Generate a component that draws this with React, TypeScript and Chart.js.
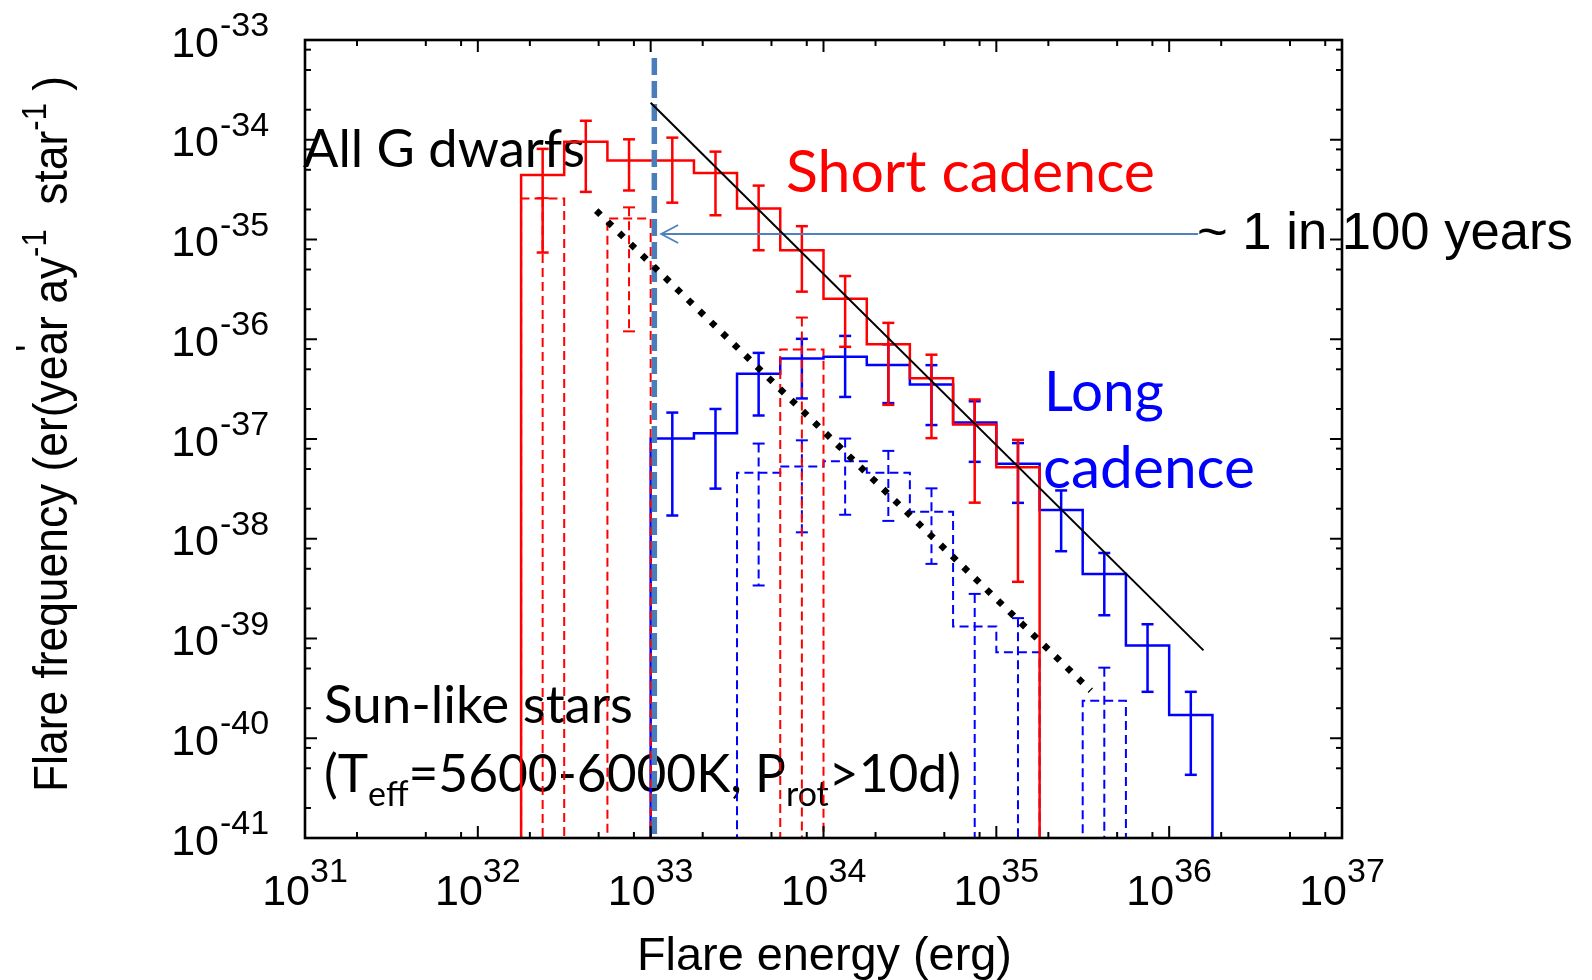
import React, { useEffect, useRef } from 'react';
import { Chart, registerables } from 'chart.js';

Chart.register(...registerables);

// ---------------- data ----------------
// shared bin edges (0.25 dex bins, 10^32.25 ... 10^36.25 erg)
const binEdges = [1.78e32, 3.16e32, 5.62e32, 1e33, 1.78e33, 3.16e33, 5.62e33, 1e34, 1.78e34, 3.16e34, 5.62e34, 1e35, 1.78e35, 3.16e35, 5.62e35, 1e36, 1.78e36];

// Short cadence, all G dwarfs (red solid); 0 = empty bin
const shortAllG = [4.44e-35, 9.55e-35, 6.2e-35, 6.2e-35, 4.65e-35, 2.04e-35, 7.8e-36, 2.55e-36, 8.9e-37, 4.07e-37, 1.4e-37, 5.2e-38, 0, 0, 0, 0];
const shortAllGHi = [8.1e-35, 1.55e-34, 1.01e-34, 1.05e-34, 7.6e-35, 3.47e-35, 1.36e-35, 4.3e-36, 1.46e-36, 7.0e-37, 2.49e-37, 9.8e-38, null, null, null, null];
const shortAllGLo = [7.4e-36, 3.0e-35, 3.1e-35, 2.34e-35, 1.75e-35, 7.8e-36, 3.0e-36, 8.4e-37, 2.2e-37, 1.02e-37, 2.3e-38, 3.7e-39, null, null, null, null];

// Short cadence, Sun-like stars (red dashed)
const shortSun = [2.57e-35, 0, 1.62e-35, 0, 0, 0, 7.9e-37, 0, 0, 0, 0, 0, 0, 0, 0, 0];
const shortSunHi = [2.6e-35, null, 2.1e-35, null, null, null, 1.65e-36, null, null, null, null, null, null, null, null, null];
const shortSunLo = [0, null, 1.2e-36, null, null, null, 0, null, null, null, null, null, null, null, null, null];

// Long cadence, all G dwarfs (blue solid)
const longAllG = [0, 0, 0, 1.01e-37, 1.14e-37, 4.5e-37, 6.41e-37, 6.68e-37, 5.53e-37, 3.52e-37, 1.46e-37, 5.66e-38, 1.94e-38, 4.42e-39, 8.5e-40, 1.71e-40];
const longAllGHi = [null, null, null, 1.84e-37, 2.0e-37, 7.3e-37, 1.01e-36, 1.08e-36, 8.9e-37, 5.5e-37, 2.39e-37, 9.1e-38, 3.05e-38, 7.2e-39, 1.39e-39, 2.92e-40];
const longAllGLo = [null, null, null, 1.71e-38, 3.18e-38, 1.72e-37, 2.55e-37, 2.64e-37, 2.29e-37, 1.38e-37, 5.9e-38, 2.29e-38, 7.5e-39, 1.71e-39, 2.92e-40, 4.3e-41];

// Long cadence, Sun-like stars (blue dashed)
const longSun = [0, 0, 0, 0, 0, 4.6e-38, 5.3e-38, 6.0e-38, 4.6e-38, 1.86e-38, 1.32e-39, 7.3e-40, 0, 2.38e-40, 0, 0];
const longSunHi = [null, null, null, null, null, 9.0e-38, 9.7e-38, 1.01e-37, 7.6e-38, 3.2e-38, 2.8e-39, 1.6e-39, null, 5.1e-40, null, null];
const longSunLo = [null, null, null, null, null, 3.4e-39, 1.16e-38, 1.74e-38, 1.51e-38, 5.6e-39, 0, 0, null, 0, null, null];

// power-law guide lines
const fitLineX = [1.0e33, 1.58e36];
const fitLineY = [2.35e-34, 7.6e-40];
const sunLineX = [4.84e32, 3.52e35];
const sunLineY = [1.95e-35, 3.0e-40];
// vertical threshold line at 10^33 erg (0 = down to the axis)
const thresholdX = [1.05e33, 1.05e33];
const thresholdY = [6.6e-34, 0];
// "~ 1 in 100 years" arrow (head first)
const arrowX = [1.15e33, 1.47e36];
const arrowY = [1.135e-35, 1.135e-35];

// axes
const xTickExps = [31, 32, 33, 34, 35, 36, 37];
const yTickExps = [-41, -40, -39, -38, -37, -36, -35, -34, -33];
const minorMults = [2, 5, 8];

// ---------------- helpers ----------------
const FLOOR = 1e-44;
const RED = '#ff0000';
const BLUE = '#0000ff';
const ARIAL = "'Liberation Sans', Arial, sans-serif";
const CALIBRI = "Lato, 'Open Sans', sans-serif";

function histPoints(vals: number[]) {
  const first = vals.findIndex((v) => v > 0);
  let last = first;
  vals.forEach((v, i) => { if (v > 0) last = i; });
  const pts: { x: number; y: number | null }[] = [{ x: binEdges[first], y: FLOOR }];
  for (let i = first; i <= last; i++) {
    const y = vals[i] > 0 ? vals[i] : FLOOR;
    pts.push({ x: binEdges[i], y }, { x: binEdges[i + 1], y });
  }
  pts.push({ x: binEdges[last + 1], y: FLOOR });
  return pts;
}

function errPoints(hi: (number | null)[], lo: (number | null)[]) {
  const pts: { x: number; y: number | null }[] = [];
  hi.forEach((h, i) => {
    if (h == null) return;
    const c = Math.sqrt(binEdges[i] * binEdges[i + 1]);
    const l = lo[i] && (lo[i] as number) > 0 ? (lo[i] as number) : FLOOR;
    pts.push({ x: c, y: h }, { x: c, y: l }, { x: c, y: null });
  });
  return pts;
}

function linePoints(xs: number[], ys: number[]) {
  return xs.map((x, i) => ({ x, y: ys[i] > 0 ? ys[i] : FLOOR }));
}

type Seg = { t: string; k?: 'sub' | 'sup' };

function richWidth(ctx: CanvasRenderingContext2D, segs: Seg[], family: string, size: number, ratio: number) {
  let w = 0;
  for (const s of segs) {
    const sz = s.k ? size * ratio : size;
    ctx.font = `${sz}px ${family}`;
    w += ctx.measureText(s.t).width;
  }
  return w;
}

function drawRich(ctx: CanvasRenderingContext2D, segs: Seg[], family: string, x: number, y: number, target: number, ratio: number, subShift: number, supShift: number) {
  const w100 = richWidth(ctx, segs, family, 100, ratio);
  const size = (100 * target) / w100;
  let cx = x;
  ctx.textAlign = 'left';
  ctx.textBaseline = 'alphabetic';
  for (const s of segs) {
    const sz = s.k ? size * ratio : size;
    ctx.font = `${sz}px ${family}`;
    const dy = s.k === 'sub' ? size * subShift : s.k === 'sup' ? -size * supShift : 0;
    ctx.fillText(s.t, cx, y + dy);
    cx += ctx.measureText(s.t).width;
  }
  return size;
}

// fixed font size, compressed along the text direction to a target length
function drawRichSized(ctx: CanvasRenderingContext2D, segs: Seg[], family: string, size: number, target: number, ratio: number, supShift: number) {
  const w = richWidth(ctx, segs, family, size, ratio);
  const sx = target / w;
  ctx.save();
  ctx.scale(sx, 1);
  let cx = 0;
  ctx.textAlign = 'left';
  ctx.textBaseline = 'alphabetic';
  for (const s of segs) {
    const sz = s.k ? size * ratio : size;
    ctx.font = `${sz}px ${family}`;
    const dy = s.k === 'sup' ? -size * supShift : 0;
    ctx.fillText(s.t, cx, dy);
    cx += ctx.measureText(s.t).width;
  }
  ctx.restore();
}

function drawFit(ctx: CanvasRenderingContext2D, text: string, family: string, x: number, y: number, target: number, color: string) {
  ctx.font = `100px ${family}`;
  const w = ctx.measureText(text).width;
  const size = (100 * target) / w;
  ctx.font = `${size}px ${family}`;
  ctx.fillStyle = color;
  ctx.textAlign = 'left';
  ctx.textBaseline = 'alphabetic';
  ctx.fillText(text, x, y);
}

// ---------------- plugins ----------------
const annotationPlugin = {
  id: 'annotations',
  beforeDatasetsDraw(chart: any) {
    const ctx: CanvasRenderingContext2D = chart.ctx;
    ctx.save();
    drawFit(ctx, 'All G dwarfs', CALIBRI, 303, 167, 282, '#000000');
    drawFit(ctx, 'Short cadence', CALIBRI, 786, 192, 369, RED);
    drawFit(ctx, 'Long', CALIBRI, 1044, 411, 120, BLUE);
    drawFit(ctx, 'cadence', CALIBRI, 1043, 488, 212, BLUE);
    drawFit(ctx, 'Sun-like stars', CALIBRI, 324, 723, 309, '#000000');
    ctx.fillStyle = '#000000';
    drawRich(ctx, [{ t: '(T' }, { t: 'eff', k: 'sub' }, { t: '=5600-6000K, P' }, { t: 'rot', k: 'sub' }, { t: '>10d)' }], CALIBRI, 324, 792, 637, 0.66, 0.27, 0);
    drawFit(ctx, '~ 1 in 100 years', ARIAL, 1197, 249, 376, '#000000');
    ctx.restore();
  },
};

const arrowPlugin = {
  id: 'arrowHead',
  afterDatasetsDraw(chart: any) {
    const idx = chart.data.datasets.findIndex((d: any) => d.label === 'arrow');
    const meta = chart.getDatasetMeta(idx);
    const p = meta.data[0];
    if (!p) return;
    const ctx: CanvasRenderingContext2D = chart.ctx;
    ctx.save();
    ctx.strokeStyle = '#4f81bd';
    ctx.lineWidth = 1.8;
    ctx.beginPath();
    ctx.moveTo(p.x + 17, p.y - 9);
    ctx.lineTo(p.x, p.y);
    ctx.lineTo(p.x + 17, p.y + 9);
    ctx.stroke();
    ctx.restore();
  },
};

const axesPlugin = {
  id: 'frameAxes',
  afterDraw(chart: any) {
    const ctx: CanvasRenderingContext2D = chart.ctx;
    const xs = chart.scales.x;
    const ys = chart.scales.y;
    const { left, right, top, bottom } = chart.chartArea;
    ctx.save();
    ctx.strokeStyle = '#000000';
    ctx.fillStyle = '#000000';
    // ticks
    ctx.lineWidth = 2;
    const seg = (x1: number, y1: number, x2: number, y2: number) => {
      ctx.beginPath();
      ctx.moveTo(x1, y1);
      ctx.lineTo(x2, y2);
      ctx.stroke();
    };
    xTickExps.forEach((e) => {
      [1, ...minorMults].forEach((m) => {
        const v = m * Math.pow(10, e);
        if (v > Math.pow(10, xTickExps[xTickExps.length - 1]) * 1.001) return;
        const px = xs.getPixelForValue(v);
        const len = m === 1 ? 12 : 6;
        seg(px, bottom, px, bottom - len);
        seg(px, top, px, top + len);
      });
    });
    yTickExps.forEach((e) => {
      [1, ...minorMults].forEach((m) => {
        const v = m * Math.pow(10, e);
        if (v > Math.pow(10, yTickExps[yTickExps.length - 1]) * 1.001) return;
        const py = ys.getPixelForValue(v);
        const len = m === 1 ? 12 : 6;
        seg(left, py, left + len, py);
        seg(right, py, right - len, py);
      });
    });
    // frame
    ctx.lineWidth = 2.6;
    ctx.strokeRect(left, top, right - left, bottom - top);

    // tick labels
    ctx.textBaseline = 'alphabetic';
    const big = `43px ${ARIAL}`;
    const small = `34px ${ARIAL}`;
    xTickExps.forEach((e) => {
      const px = xs.getPixelForValue(Math.pow(10, e));
      ctx.font = big;
      const w1 = ctx.measureText('10').width;
      ctx.font = small;
      const sup = String(e);
      const w2 = ctx.measureText(sup).width;
      const x0 = px - (w1 + w2) / 2;
      ctx.textAlign = 'left';
      ctx.font = big;
      ctx.fillText('10', x0, 905);
      ctx.font = small;
      ctx.fillText(sup, x0 + w1, 882);
    });
    yTickExps.forEach((e) => {
      const py = ys.getPixelForValue(Math.pow(10, e));
      ctx.textAlign = 'right';
      ctx.font = big;
      ctx.fillText('10', left - 86, py + 16.5);
      ctx.textAlign = 'left';
      ctx.font = small;
      ctx.fillText(String(e), left - 85, py - 4);
    });

    // x axis title
    drawFit(ctx, 'Flare energy (erg)', ARIAL, 637, 970, 375, '#000000');

    // y axis title (rotated)
    ctx.save();
    ctx.translate(67, 792);
    ctx.rotate(-Math.PI / 2);
    ctx.fillStyle = '#000000';
    drawRichSized(ctx, [{ t: 'Flare frequency (er(year ay' }, { t: '-1', k: 'sup' }, { t: '  star' }, { t: '-1', k: 'sup' }, { t: ' )' }], ARIAL, 49, 716, 0.7, 0.42);
    ctx.restore();
    ctx.save();
    ctx.translate(44, 352);
    ctx.rotate(-Math.PI / 2);
    ctx.font = `40px ${ARIAL}`;
    ctx.textAlign = 'left';
    ctx.fillText("'", 0, 0);
    ctx.restore();

    ctx.restore();
  },
};

// ---------------- component ----------------
export default function App() {
  const ref = useRef<HTMLCanvasElement>(null);

  useEffect(() => {
    const canvas = ref.current;
    if (!canvas) return;

    const histDs = (label: string, vals: number[], color: string, dashed: boolean, order: number) => ({
      label,
      data: histPoints(vals),
      borderColor: color,
      borderWidth: dashed ? 2 : 2.5,
      borderDash: dashed ? [9, 5] : [],
      pointRadius: 0,
      fill: false,
      tension: 0,
      clip: 1,
      order,
    });
    const errDs = (label: string, hi: (number | null)[], lo: (number | null)[], color: string, dashed: boolean, order: number) => ({
      label,
      data: errPoints(hi, lo),
      borderColor: color,
      borderWidth: dashed ? 2 : 2.5,
      borderDash: dashed ? [9, 5] : [],
      pointStyle: 'line',
      pointRadius: 6,
      pointBorderWidth: dashed ? 2 : 2.5,
      pointBorderColor: color,
      pointBackgroundColor: color,
      fill: false,
      tension: 0,
      spanGaps: false,
      clip: 1,
      order,
    });

    const chart = new Chart(canvas, {
      type: 'line',
      data: {
        datasets: [
          {
            label: 'fit',
            data: linePoints(fitLineX, fitLineY),
            borderColor: '#000000',
            borderWidth: 2,
            pointRadius: 0,
            clip: 1,
            order: 0,
          } as any,
          {
            label: 'sunlike',
            data: linePoints(sunLineX, sunLineY),
            borderColor: '#000000',
            borderWidth: 6.5,
            borderDash: [6, 10],
            borderCapStyle: 'butt',
            pointRadius: 0,
            clip: 4,
            order: 1,
          } as any,
          {
            label: 'threshold',
            data: linePoints(thresholdX, thresholdY),
            borderColor: '#4a7ebb',
            borderWidth: 5.5,
            borderDash: [17, 6],
            pointRadius: 0,
            clip: 0,
            order: 2,
          } as any,
          {
            label: 'arrow',
            data: linePoints(arrowX, arrowY),
            borderColor: '#4f81bd',
            borderWidth: 1.8,
            pointRadius: 0,
            clip: false,
            order: 3,
          } as any,
          histDs('shortAllG', shortAllG, RED, false, 4) as any,
          errDs('shortAllGErr', shortAllGHi, shortAllGLo, RED, false, 5) as any,
          histDs('shortSun', shortSun, RED, true, 6) as any,
          errDs('shortSunErr', shortSunHi, shortSunLo, RED, true, 7) as any,
          histDs('longAllG', longAllG, BLUE, false, 8) as any,
          errDs('longAllGErr', longAllGHi, longAllGLo, BLUE, false, 9) as any,
          histDs('longSun', longSun, BLUE, true, 10) as any,
          errDs('longSunErr', longSunHi, longSunLo, BLUE, true, 11) as any,
        ],
      },
      options: {
        animation: false,
        responsive: false,
        maintainAspectRatio: false,
        devicePixelRatio: 1,
        events: [],
        layout: { padding: { left: 305, right: 250, top: 40, bottom: 142 } },
        plugins: {
          legend: { display: false },
          tooltip: { enabled: false },
        },
        scales: {
          x: { type: 'logarithmic', min: 1e31, max: 1e37, display: false },
          y: { type: 'logarithmic', min: 1e-41, max: 1e-33, display: false },
        },
      } as any,
      plugins: [annotationPlugin, arrowPlugin, axesPlugin],
    });

    return () => chart.destroy();
  }, []);

  return (
    <div style={{ position: 'fixed', left: 0, top: 0, width: 1592, height: 980, background: '#ffffff' }}>
      <canvas ref={ref} width={1592} height={980} style={{ display: 'block', width: 1592, height: 980 }} />
    </div>
  );
}
